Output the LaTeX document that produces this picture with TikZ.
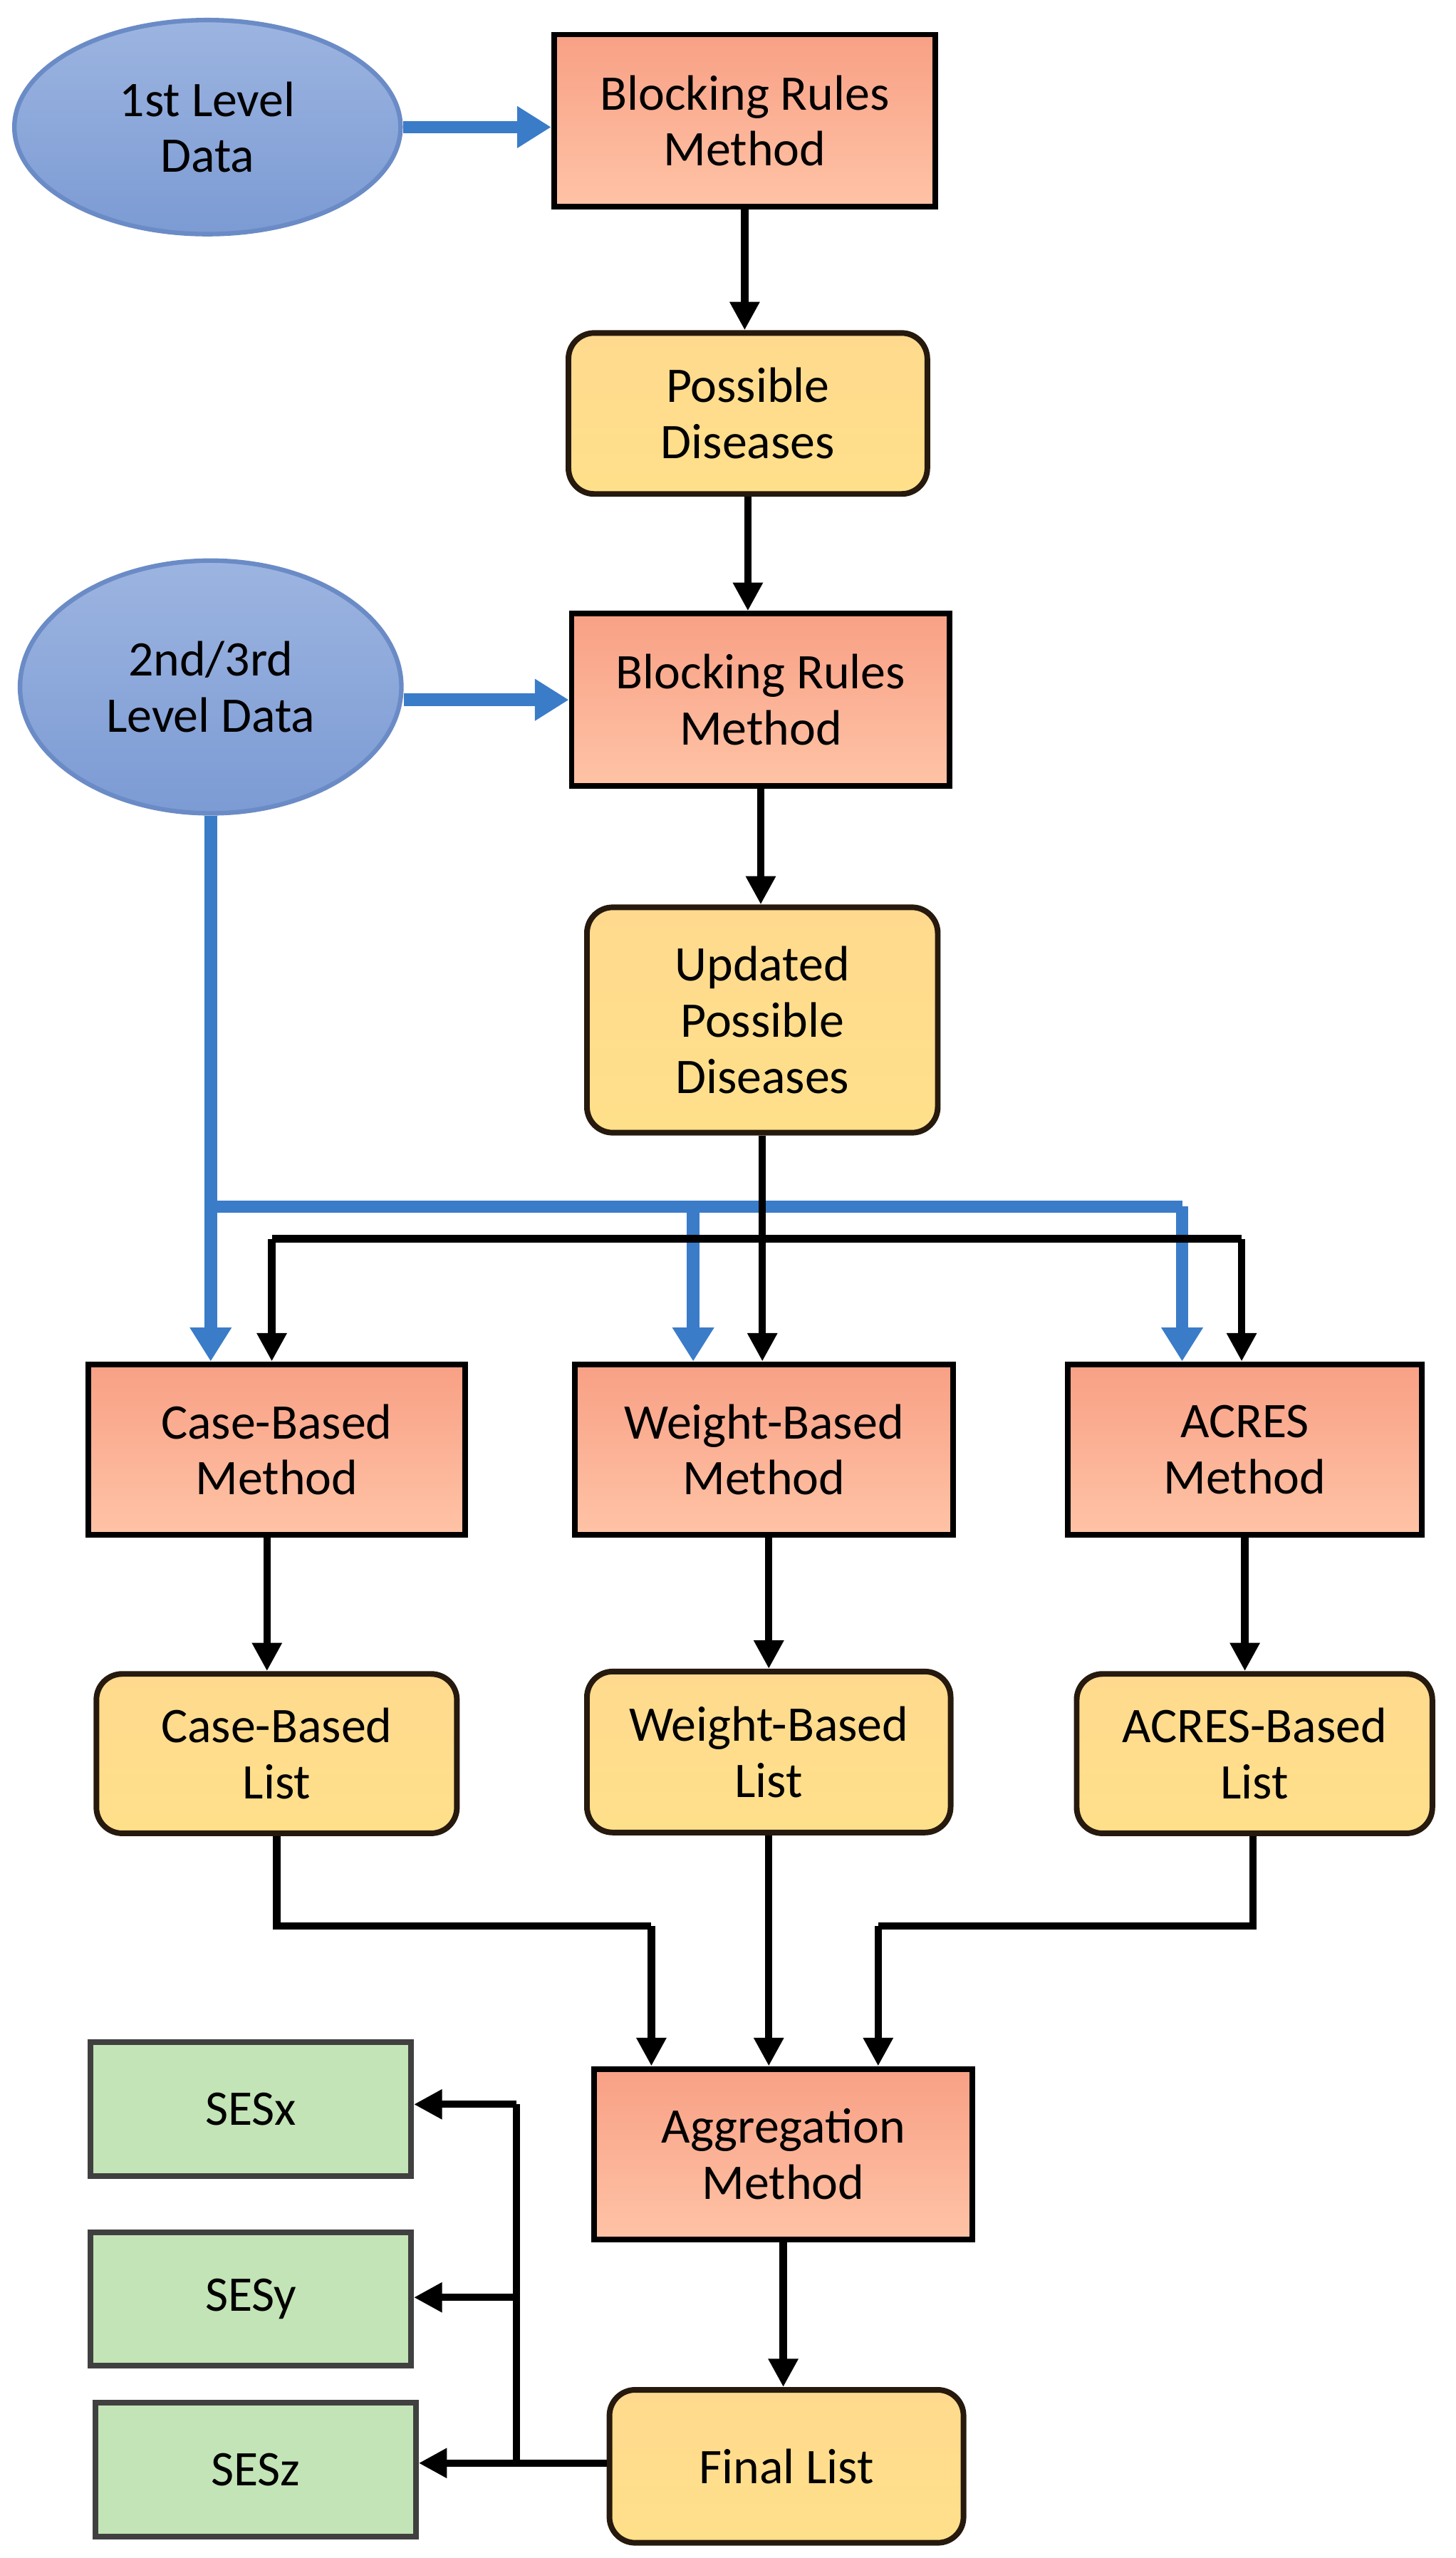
\documentclass[tikz,border=0pt]{standalone}
\usepackage{fontspec}
\setmainfont{Carlito}
\usetikzlibrary{shapes.geometric,arrows.meta}
\definecolor{sal1}{HTML}{F8A085}\definecolor{sal2}{HTML}{FFC3A6}
\definecolor{yel1}{HTML}{FFDA8E}\definecolor{yel2}{HTML}{FFE08A}
\definecolor{blu1}{HTML}{9CB4E0}\definecolor{blu2}{HTML}{7C9BD4}
\definecolor{bluB}{HTML}{6A8BC6}\definecolor{arr}{HTML}{3A7CC8}
\definecolor{grn}{HTML}{C3E4B6}
\tikzset{
 txt/.style={font=\fontsize{8.8}{9.9}\selectfont, align=center, text=black},
 box/.style={txt, draw=black, line width=1pt, top color=sal1, bottom color=sal2, inner sep=0pt},
 lst/.style={txt, draw=black!80!brown, line width=1pt, rounded corners=0.16cm, top color=yel1, bottom color=yel2, inner sep=0pt},
 ell/.style={txt, ellipse, draw=bluB, line width=0.8pt, top color=blu1, bottom color=blu2, inner sep=0pt},
 ses/.style={txt, draw=black!75, line width=1pt, fill=grn, inner sep=0pt},
 ba/.style={line width=1.3pt, -{Triangle[length=5pt,width=5pt]}},
 bl/.style={line width=1.3pt},
 ua/.style={arr, line width=2.2pt, -{Triangle[length=6pt,width=7pt]}},
 ul/.style={arr, line width=2.2pt},
}
\begin{document}
\begin{tikzpicture}[x=0.01cm,y=-0.01cm]
\useasboundingbox (0,0) rectangle (905,1590);
\node[ell, minimum width=2.40cm, minimum height=1.33cm] (e1) at (129,79) {1st Level\\Data};
\node[box, minimum width=2.37cm, minimum height=1.07cm] (b1) at (463,75) {Blocking Rules\\Method};
\node[lst, minimum width=2.23cm, minimum height=1.0cm] (p1) at (465,257) {Possible\\Diseases};
\node[ell, minimum width=2.37cm, minimum height=1.57cm] (e2) at (131,427) {2nd/3rd\\Level Data};
\node[box, minimum width=2.35cm, minimum height=1.07cm] (b2) at (473,435) {Blocking Rules\\Method};
\node[lst, minimum width=2.18cm, minimum height=1.40cm] (u) at (474,634) {Updated\\Possible\\Diseases};
\node[box, minimum width=2.34cm, minimum height=1.06cm] (cb) at (172,901) {Case-Based\\Method};
\node[box, minimum width=2.35cm, minimum height=1.06cm] (wb) at (475,901) {Weight-Based\\Method};
\node[box, minimum width=2.20cm, minimum height=1.06cm] (ac) at (774,901) {ACRES\\Method};
\node[lst, minimum width=2.24cm, minimum height=0.99cm] (cl) at (172,1090) {Case-Based\\List};
\node[lst, minimum width=2.26cm, minimum height=1.0cm] (wl) at (478,1089) {Weight-Based\\List};
\node[lst, minimum width=2.21cm, minimum height=0.99cm] (al) at (780,1090) {ACRES-Based\\List};
\node[box, minimum width=2.35cm, minimum height=1.06cm] (ag) at (487,1339) {Aggregation\\Method};
\node[lst, minimum width=2.2cm, minimum height=0.95cm] (fl) at (489,1533) {Final List};
\node[ses, minimum width=1.99cm, minimum height=0.83cm] (sx) at (156,1311) {SESx};
\node[ses, minimum width=1.99cm, minimum height=0.83cm] (sy) at (156,1429) {SESy};
\node[ses, minimum width=1.99cm, minimum height=0.83cm] (sz) at (159,1535) {SESz};
% top chain
\draw[ua] (e1.east) -- (e1.east -| b1.west);
\draw[ba] (b1) -- (b1.south |- p1.north);
\draw[ba] (p1) -- (p1.south |- b2.north);
\draw[ua] (e2.east |- b2.west) -- (b2.west);
\draw[ba] (b2) -- (b2.south |- u.north);
% blue distribution
\coordinate (j) at (131,750);
\coordinate (jw) at (431,750);
\coordinate (ja) at (735,750);
\draw[ul] (e2.south -| j) -- (j) -- (ja);
\draw[ua] (e2.south -| j) -- (j |- cb.north);
\draw[ua] (jw) -- (jw |- wb.north);
\draw[ua] (ja) -- (ja |- ac.north);
% black distribution
\coordinate (k) at (474,770);
\coordinate (kc) at (169,770);
\coordinate (ka) at (772,770);
\draw[bl] (u.south) -- (k);
\draw[bl] (kc) -- (ka);
\draw[ba] (kc) -- (kc |- cb.north);
\draw[ba] (k) -- (k |- wb.north);
\draw[ba] (ka) -- (ka |- ac.north);
% methods to lists
\coordinate (c1) at (166,0);
\draw[ba] (c1 |- cb.south) -- (c1 |- cl.north);
\draw[ba] (wl.north |- wb.south) -- (wl.north);
\draw[ba] (ac.south) -- (ac.south |- al.north);
% lists to aggregation
\coordinate (m1) at (172,1197);
\coordinate (m2) at (405,1197);
\coordinate (m3) at (779,1197);
\coordinate (m4) at (546,1197);
\draw[bl] (m1 |- cl.south) -- (m1) -- (m2);
\draw[ba] (m2) -- (m2 |- ag.north);
\draw[ba] (wl.south) -- (wl.south |- ag.north);
\draw[bl] (m3 |- al.south) -- (m3) -- (m4);
\draw[ba] (m4) -- (m4 |- ag.north);
\draw[ba] (ag.south) -- (ag.south |- fl.north);
% SES
\coordinate (s1) at (321,1308);
\coordinate (s2) at (321,1428);
\coordinate (s3) at (321,1531);
\draw[bl] (fl.west |- s3) -- (s3);
\draw[bl] (s1) -- (s3);
\draw[ba] (s1) -- (s1 -| sx.east);
\draw[ba] (s2) -- (s2 -| sy.east);
\draw[ba] (s3) -- (s3 -| sz.east);
\end{tikzpicture}
\end{document}
